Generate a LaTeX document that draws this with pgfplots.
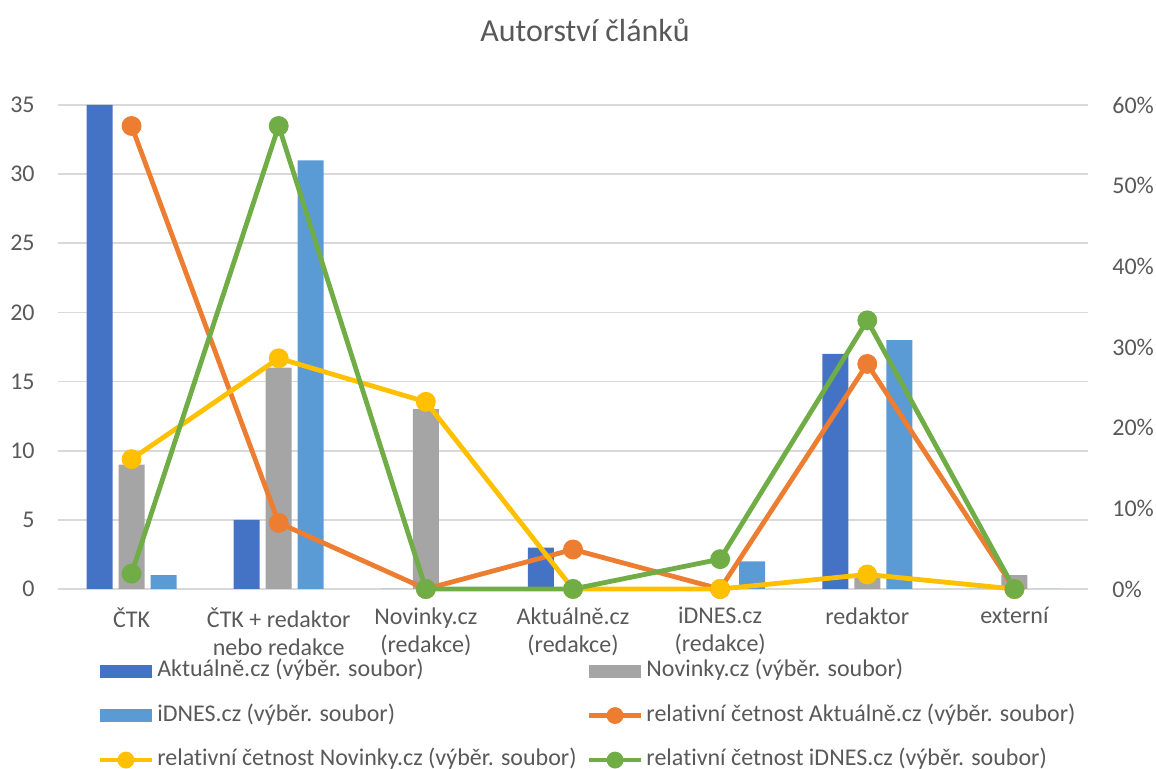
\documentclass[border=0pt]{standalone}
\usepackage{fontspec}
\setmainfont[Ligatures=NoCommon]{Carlito}
\usepackage{pgfplots}
\pgfplotsset{compat=1.18}
\definecolor{aktcol}{HTML}{4472C4}
\definecolor{novcol}{HTML}{A5A5A5}
\definecolor{idncol}{HTML}{5B9BD5}
\definecolor{lakt}{HTML}{ED7D31}
\definecolor{lnov}{HTML}{FFC000}
\definecolor{lidn}{HTML}{70AD47}
\definecolor{txt}{HTML}{595959}
\definecolor{gridcol}{HTML}{D9D9D9}

\pgfplotsset{
  barleg/.style={legend image code/.code={\fill[##1] (0pt,-3.25pt) rectangle (26pt,3.25pt);}},
  lineleg/.style={legend image code/.code={\draw[mark repeat=2,mark phase=2,##1,mark size=3pt] plot coordinates {(0pt,0pt) (13pt,0pt) (26pt,0pt)};}},
  relline/.style={line width=2.4pt, mark=*, mark size=3.75pt, mark options={solid}},
  base/.style={
    scale only axis, width=515pt, height=242pt,
    xmin=-0.5, xmax=6.5,
    major tick length=0pt,
    /pgf/number format/assume math mode=true,
    tick label style={font=\fontsize{12}{14}\selectfont, text=txt},
  },
}

\begin{document}
\begin{tikzpicture}
\useasboundingbox (-29pt,-90pt) rectangle (549pt,294.5pt);
\begin{axis}[
  base,
  ymin=0, ymax=35,
  ybar=3pt, bar width=13pt,
  xtick={0,...,6},
  xticklabels={ČTK, ČTK + redaktor\\nebo redakce, Novinky.cz\\(redakce), Aktuálně.cz\\(redakce), iDNES.cz\\(redakce), redaktor, externí},
  xticklabel style={align=center, anchor=north, inner sep=0pt, yshift=-9pt},
  ytick={0,5,...,35},
  yticklabel style={anchor=east, inner sep=0pt, xshift=-11.5pt},
  ymajorgrids, grid style={gridcol, line width=0.8pt},
  axis line style={draw=none},
]
\addplot[fill=aktcol, draw=none] coordinates {(0,35) (1,5) (2,0) (3,3) (4,0) (5,17) (6,0)};
\addplot[fill=novcol, draw=none] coordinates {(0,9) (1,16) (2,13) (3,0) (4,0) (5,1) (6,1)};
\addplot[fill=idncol, draw=none] coordinates {(0,1) (1,31) (2,0) (3,0) (4,2) (5,18) (6,0)};
\end{axis}
\begin{axis}[
  base,
  ymin=0, ymax=60,
  axis y line*=right, axis x line=none,
  y axis line style={draw=none},
  ytick={0,10,...,60},
  yticklabel={\pgfmathprintnumber{\tick}\%},
  yticklabel style={anchor=west, inner sep=0pt, xshift=12pt},
  clip=false,
  title={Autorství článků},
  title style={at={(0.5117,1)}, anchor=center, yshift=31.5pt, font=\fontsize{16}{19}\selectfont, text=txt},
  legend columns=2,
  legend style={at={(0.0380,-0.1450)}, anchor=north west, draw=none, fill=none, inner sep=0pt,
    font=\fontsize{12}{14}\selectfont, text=txt,
    nodes={inner sep=0pt, text height=8.5pt, text depth=3pt},
    row sep=10.75pt,
    /tikz/every odd column/.append style={column sep=1.5pt},
    /tikz/every even column/.append style={column sep=5pt}},
  legend cell align=left,
]
\addlegendimage{barleg, fill=aktcol, draw=none}
\addlegendentry{Aktuálně.cz (výběr. soubor)}
\addlegendimage{barleg, fill=novcol, draw=none}
\addlegendentry{Novinky.cz (výběr. soubor)}
\addlegendimage{barleg, fill=idncol, draw=none}
\addlegendentry{iDNES.cz (výběr. soubor)}
\addplot[relline, lineleg, color=lakt] coordinates {(0,57.4) (1,8.2) (2,0) (3,4.9) (4,0) (5,27.9) (6,0)};
\addlegendentry{relativní četnost Aktuálně.cz (výběr. soubor)}
\addplot[relline, lineleg, color=lnov] coordinates {(0,16.1) (1,28.6) (2,23.2) (3,0) (4,0) (5,1.8) (6,0)};
\addlegendentry{relativní četnost Novinky.cz (výběr. soubor)}
\addplot[relline, lineleg, color=lidn] coordinates {(0,1.9) (1,57.4) (2,0) (3,0) (4,3.7) (5,33.3) (6,0)};
\addlegendentry{relativní četnost iDNES.cz (výběr. soubor)}
\end{axis}
\end{tikzpicture}
\end{document}
